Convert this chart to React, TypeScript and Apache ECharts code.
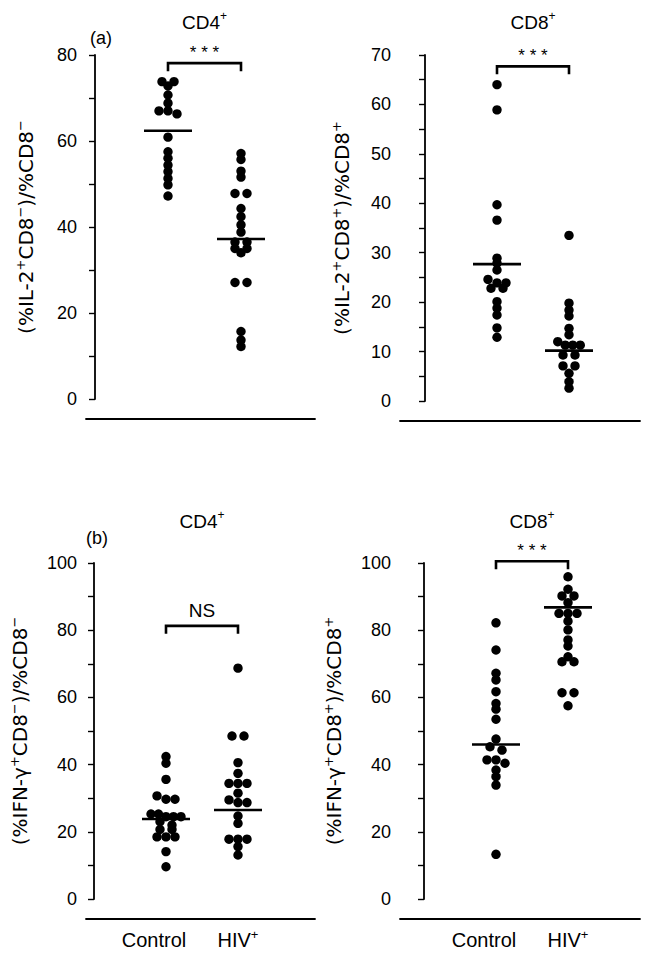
import React, { useEffect, useRef } from 'react';
import * as echarts from 'echarts';

// ---------- data ----------
const groups = ['Control', 'HIV+'];

// (a) CD4+ : (%IL-2+CD8−)/%CD8−
const il2Cd4Control = [73.8, 73.8, 72.8, 70.7, 68.8, 67.0, 67.0, 66.3, 60.9, 57.5, 56.0, 54.4, 52.9, 51.3, 49.8, 47.2];
const il2Cd4Hiv = [57.1, 55.7, 53.0, 51.6, 47.8, 47.8, 44.3, 42.4, 40.5, 38.8, 36.5, 36.5, 35.0, 35.0, 34.0, 27.1, 27.1, 15.7, 13.7, 12.2];
const il2Cd4Means = [62.4, 37.2];
const il2Cd4Ticks = [0, 20, 40, 60, 80];

// (a) CD8+ : (%IL-2+CD8+)/%CD8+
const il2Cd8Control = [64.0, 58.9, 39.7, 36.6, 28.9, 27.9, 26.5, 24.6, 23.9, 23.9, 22.8, 22.8, 20.1, 18.8, 17.4, 14.8, 12.9];
const il2Cd8Hiv = [33.5, 19.8, 18.4, 17.2, 14.7, 13.4, 12.0, 11.3, 11.3, 11.3, 9.3, 9.3, 7.1, 7.1, 5.6, 3.9, 2.6];
const il2Cd8Means = [27.7, 10.2];
const il2Cd8Ticks = [0, 10, 20, 30, 40, 50, 60, 70];

// (b) CD4+ : (%IFN-γ+CD8−)/%CD8−
const ifnCd4Control = [42.4, 40.4, 35.6, 30.7, 29.7, 29.7, 25.3, 25.3, 24.5, 24.5, 24.5, 23.0, 22.0, 20.7, 20.7, 18.5, 18.5, 18.5, 14.1, 9.6];
const ifnCd4Hiv = [68.7, 48.5, 48.5, 40.6, 37.4, 34.4, 34.4, 34.4, 31.5, 29.5, 28.7, 28.7, 24.7, 22.5, 17.8, 17.8, 17.8, 15.6, 13.1];
const ifnCd4Means = [23.8, 26.5];
const ifnCd4Ticks = [0, 20, 40, 60, 80, 100];

// (b) CD8+ : (%IFN-γ+CD8+)/%CD8+
const ifnCd8Control = [82.2, 74.1, 67.2, 65.2, 61.7, 58.2, 56.5, 53.5, 47.6, 45.3, 44.3, 41.4, 41.4, 40.4, 38.4, 36.4, 33.9, 13.3];
const ifnCd8Hiv = [95.9, 92.2, 90.2, 90.2, 88.2, 85.0, 85.0, 85.0, 82.7, 80.1, 77.1, 75.3, 72.1, 70.6, 70.6, 61.4, 61.4, 57.5];
const ifnCd8Means = [46.0, 86.8];
const ifnCd8Ticks = [0, 20, 40, 60, 80, 100];

const significance = ['***', '***', 'NS', '***'];
const bracketLevels = [78.1, 67.7, 81.3, 100.5];
const panelTitles = ['CD4', 'CD8', 'CD4', 'CD8'];
const panelTags = ['(a)', '', '(b)', ''];

// ---------- layout / style ----------
const FONT = '"Liberation Sans", Arial, Helvetica, sans-serif';
const NAME_FONT = '"DejaVu Sans", "Liberation Sans", sans-serif';
const DOT_R = 4.7;

const layouts = [
  { left: 86, top: 55, bottom: 399, right: 315, ctrlX: 168, hivX: 241, nameGap: 48, titleY: 22, tagX: 90, tagY: 38, labels: false },
  { left: 400, top: 55, bottom: 401, right: 640, ctrlX: 497, hivX: 569, nameGap: 46, titleY: 22, tagX: 0, tagY: 0, labels: false },
  { left: 86, top: 563, bottom: 899, right: 315, ctrlX: 166, hivX: 238, nameGap: 54, titleY: 521, tagX: 86, tagY: 538, labels: true },
  { left: 400, top: 563, bottom: 899, right: 640, ctrlX: 496, hivX: 568, nameGap: 54, titleY: 521, tagX: 0, tagY: 0, labels: true },
];

const yNames = [
  '{n|(%IL-2}{s|+}{n|CD8}{s|−}{n|)/%CD8}{s|−}',
  '{n|(%IL-2}{s|+}{n|CD8}{s|+}{n|)/%CD8}{s|+}',
  '{n|(%IFN-γ}{s|+}{n|CD8}{s|−}{n|)/%CD8}{s|−}',
  '{n|(%IFN-γ}{s|+}{n|CD8}{s|+}{n|)/%CD8}{s|+}',
];

const panelData = [
  { control: il2Cd4Control, hiv: il2Cd4Hiv, means: il2Cd4Means, ticks: il2Cd4Ticks },
  { control: il2Cd8Control, hiv: il2Cd8Hiv, means: il2Cd8Means, ticks: il2Cd8Ticks },
  { control: ifnCd4Control, hiv: ifnCd4Hiv, means: ifnCd4Means, ticks: ifnCd4Ticks },
  { control: ifnCd8Control, hiv: ifnCd8Hiv, means: ifnCd8Means, ticks: ifnCd8Ticks },
];

// simple beeswarm: dots whose values are nearly equal are spread sideways
function swarm(values: number[], ppu: number): number[] {
  const idx = values.map((_, i) => i).sort((a, b) => values[b] - values[a]);
  const dx = new Array(values.length).fill(0);
  let k = 0;
  while (k < idx.length) {
    let j = k + 1;
    while (j < idx.length && (values[idx[k]] - values[idx[j]]) * ppu < 3.6) j++;
    const n = j - k;
    const step = n === 2 ? 12 : n === 3 ? 9 : 7.5;
    for (let m = 0; m < n; m++) dx[idx[k + m]] = (m - (n - 1) / 2) * step;
    k = j;
  }
  return dx;
}

const richN = { fontSize: 20, fontFamily: FONT, color: '#000', fill: '#000', lineHeight: 24 };
const richC = { ...richN, padding: [0, 24, 0, 0] };
const richS = { fontSize: 13, fontFamily: FONT, color: '#000', fill: '#000', verticalAlign: 'top', lineHeight: 24, padding: [0, 0, 9, 0] };
const nameN = { fontSize: 20, fontFamily: NAME_FONT, color: '#000', fill: '#000', lineHeight: 24 };
const nameS = { fontSize: 13, fontFamily: NAME_FONT, color: '#000', fill: '#000', verticalAlign: 'top', lineHeight: 24, padding: [0, 0, 9, 0] };

function buildOption() {
  const grid: any[] = [];
  const xAxis: any[] = [];
  const yAxis: any[] = [];
  const series: any[] = [];
  const graphic: any[] = [];

  layouts.forEach((l, i) => {
    const d = panelData[i];
    const yMax = d.ticks[d.ticks.length - 1];
    const interval = d.ticks[1] - d.ticks[0];
    const ppu = (l.bottom - l.top) / yMax;
    const unit = l.hivX - l.ctrlX;
    const xMin = 1 - (l.ctrlX - l.left) / unit;
    const xMax = xMin + (l.right - l.left) / unit;

    grid.push({ left: l.left, top: l.top, width: l.right - l.left, height: l.bottom - l.top });

    xAxis.push({
      gridIndex: i,
      type: 'value',
      min: xMin,
      max: xMax,
      offset: 20,
      axisLine: { show: true, onZero: false, lineStyle: { color: '#000', width: 1.8 } },
      axisTick: { show: false },
      splitLine: { show: false },
      axisLabel: l.labels
        ? {
            show: true,
            customValues: [1, 2],
            margin: 9,
            formatter: (v: number) => (Math.round(v) === 1 ? `{c|${groups[0]}}` : `{n|${groups[1].replace('+', '')}}{s|+}`),
            rich: { n: { ...richN }, c: { ...richC }, s: { ...richS } },
          }
        : { show: false },
    });

    yAxis.push({
      gridIndex: i,
      type: 'value',
      min: 0,
      max: yMax,
      interval,
      axisLine: { show: true, lineStyle: { color: '#000', width: 1.8 } },
      axisTick: { show: true, length: 6, lineStyle: { color: '#000', width: 1.4 } },
      minorTick: { show: true, splitNumber: 2, length: 6, lineStyle: { color: '#000', width: 1.4 } },
      splitLine: { show: false },
      minorSplitLine: { show: false },
      axisLabel: { color: '#000', fontSize: 18, fontFamily: FONT, margin: 9 },
      name: yNames[i],
      nameLocation: 'middle',
      nameGap: l.nameGap,
      nameTextStyle: { rich: { n: { ...nameN }, s: { ...nameS } } },
    });

    const makeDots = (vals: number[], cat: number) => {
      const dx = swarm(vals, ppu);
      return {
        type: 'custom',
        xAxisIndex: i,
        yAxisIndex: i,
        data: vals.map((v, k) => [cat, v, dx[k]]),
        encode: { x: 0, y: 1 },
        renderItem: (_p: any, api: any) => {
          const pt = api.coord([api.value(0), api.value(1)]);
          return { type: 'circle', shape: { cx: pt[0] + api.value(2), cy: pt[1], r: DOT_R }, style: { fill: '#000' } };
        },
      };
    };
    series.push(makeDots(d.control, 1));
    series.push(makeDots(d.hiv, 2));

    series.push({
      type: 'custom',
      xAxisIndex: i,
      yAxisIndex: i,
      data: d.means.map((m, k) => [k + 1, m]),
      encode: { x: 0, y: 1 },
      renderItem: (_p: any, api: any) => {
        const pt = api.coord([api.value(0), api.value(1)]);
        return { type: 'line', shape: { x1: pt[0] - 24, y1: pt[1], x2: pt[0] + 24, y2: pt[1] }, style: { stroke: '#000', lineWidth: 2.6 } };
      },
    });

    const sig = significance[i];
    series.push({
      type: 'custom',
      xAxisIndex: i,
      yAxisIndex: i,
      data: [[1, 2, bracketLevels[i]]],
      encode: { x: [0, 1], y: 2 },
      renderItem: (_p: any, api: any) => {
        const p1 = api.coord([api.value(0), api.value(2)]);
        const p2 = api.coord([api.value(1), api.value(2)]);
        const isNS = sig === 'NS';
        return {
          type: 'group',
          children: [
            {
              type: 'polyline',
              shape: { points: [[p1[0], p1[1] + 8], [p1[0], p1[1]], [p2[0], p2[1]], [p2[0], p2[1] + 8]] },
              style: { stroke: '#000', lineWidth: 2.6, fill: null },
            },
            {
              type: 'text',
              x: (p1[0] + p2[0]) / 2,
              y: p1[1] - (isNS ? 6 : 2),
              style: {
                text: isNS ? sig : sig.split('').join(' '),
                align: 'center',
                verticalAlign: 'bottom',
                fontSize: isNS ? 19 : 17,
                fontFamily: FONT,
                fill: '#000',
              },
            },
          ],
        };
      },
    });

    graphic.push({
      type: 'text',
      x: (l.ctrlX + l.hivX) / 2,
      y: l.titleY,
      style: {
        text: `{n|${panelTitles[i]}}{s|+}`,
        rich: { n: { fontSize: 19, fontFamily: FONT, fill: '#000', lineHeight: 24 }, s: { fontSize: 12, fontFamily: FONT, fill: '#000', verticalAlign: 'top', lineHeight: 24, padding: [0, 0, 9, 0] } },
        align: 'center',
        verticalAlign: 'middle',
      },
    });
    if (panelTags[i]) {
      graphic.push({
        type: 'text',
        x: l.tagX,
        y: l.tagY,
        style: { text: panelTags[i], fontSize: 18, fontFamily: FONT, fill: '#000', align: 'left', verticalAlign: 'middle' },
      });
    }
  });

  return { animation: false, backgroundColor: '#fff', grid, xAxis, yAxis, series, graphic };
}

export default function App() {
  const ref = useRef<HTMLDivElement>(null);
  useEffect(() => {
    if (!ref.current) return;
    const chart = echarts.init(ref.current, undefined, { renderer: 'svg' });
    chart.setOption(buildOption() as any);
    return () => chart.dispose();
  }, []);
  return <div ref={ref} style={{ position: 'absolute', left: 0, top: 0, width: 648, height: 957 }} />;
}
